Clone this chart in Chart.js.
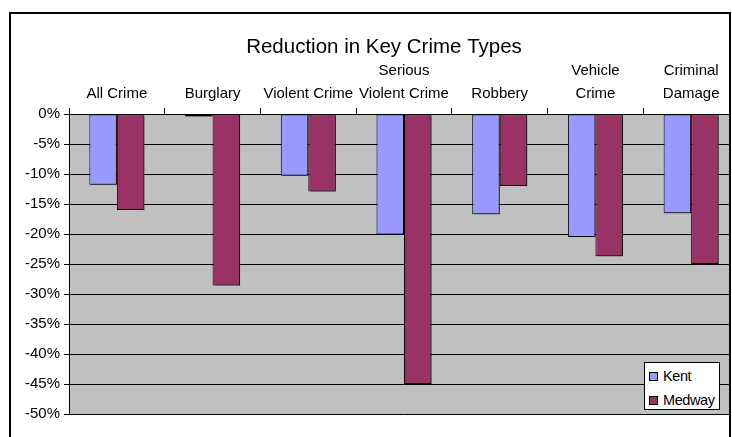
<!DOCTYPE html>
<html>
<head>
<meta charset="utf-8">
<script src="https://cdn.jsdelivr.net/npm/chart.js@4.4.1/dist/chart.umd.min.js"></script>
<style>
  html, body { margin: 0; padding: 0; background: #fff; overflow: hidden; }
  #wrap { position: relative; width: 732px; height: 437px; overflow: hidden; }
  #c { position: absolute; left: 0; top: 0; }
  #frame { position: absolute; left: 9px; top: 12px; width: 718px; height: 500px; border: 2px solid #000; pointer-events: none; }
  #rightpad { position: absolute; left: 731px; top: 0; width: 10px; height: 437px; background: #fff; }
  #legend { position: absolute; left: 644px; top: 362px; width: 74px; height: 46px; border: 1px solid #000; background: #fff;
            font-family: "Liberation Sans", Arial, sans-serif; font-size: 14.5px; letter-spacing: -0.4px; color: #000; }
  #legend .item { position: absolute; left: 4px; height: 20px; line-height: 20px; white-space: nowrap; }
  #legend .sw { display: inline-block; width: 7px; height: 7px; border: 1px solid #000; margin-right: 5px; vertical-align: 0px; }
</style>
</head>
<body>
<div id="wrap">
  <canvas id="c" width="768" height="437"></canvas>
  <div id="frame"></div>
  <div id="rightpad"></div>
  <div id="legend"></div>
</div>
<script>
const categories = ['All Crime', 'Burglary', 'Violent Crime', ['Serious', 'Violent Crime'], 'Robbery', ['Vehicle', 'Crime'], ['Criminal', 'Damage']];
const seriesNames = ['Kent', 'Medway'];
const kentValues = [-11.8, -0.4, -10.3, -20.1, -16.7, -20.5, -16.55];
const medwayValues = [-16.0, -28.6, -12.9, -45.0, -12.0, -23.7, -25.0];
const yTickMin = -50;
const yTickMax = 0;
const yTickStep = 5;

const colors = ['#9999FF', '#993366'];
const FONT = '"Liberation Sans", Arial, sans-serif';

const shadowPlugin = {
  id: 'barShadow',
  beforeDatasetsDraw(chart) {
    const ctx = chart.ctx;
    ctx.save();
    ctx.shadowColor = 'rgba(0,0,0,0.45)';
    ctx.shadowOffsetX = 2;
    ctx.shadowOffsetY = 2;
    ctx.shadowBlur = 0;
  },
  afterDatasetsDraw(chart) {
    chart.ctx.restore();
  }
};

const chart = new Chart(document.getElementById('c'), {
  type: 'bar',
  data: {
    labels: categories,
    datasets: [
      { label: seriesNames[0], data: kentValues, backgroundColor: colors[0], borderColor: '#000', borderWidth: 1, borderSkipped: false },
      { label: seriesNames[1], data: medwayValues, backgroundColor: colors[1], borderColor: '#000', borderWidth: 1, borderSkipped: false }
    ]
  },
  plugins: [shadowPlugin, {
    id: 'plotBg',
    beforeDraw(chart) {
      const { ctx, chartArea: a } = chart;
      ctx.save();
      ctx.fillStyle = '#C0C0C0';
      ctx.fillRect(a.left, a.top, a.right - a.left, a.bottom - a.top);
      ctx.restore();
    }
  }],
  options: {
    responsive: false,
    animation: false,
    layout: { padding: { left: 0, right: 0, top: 0, bottom: 23 } },
    datasets: { bar: { categoryPercentage: 0.575, barPercentage: 1.0 } },
    plugins: {
      legend: { display: false },
      tooltip: { enabled: false },
      title: {
        display: true,
        text: 'Reduction in Key Crime Types',
        color: '#000',
        font: { family: FONT, size: 20.5, weight: 'normal', lineHeight: 1.2 },
        padding: { top: 34.7, bottom: 0 }
      }
    },
    scales: {
      x: {
        position: 'top',
        offset: true,
        grid: { display: true, drawOnChartArea: false, drawTicks: true, tickLength: 6, color: '#000', offset: true },
        border: { display: true, color: '#000', width: 1 },
        ticks: { color: '#000', font: { family: FONT, size: 15, lineHeight: 1.5 }, padding: 3, maxRotation: 0, autoSkip: false },
        afterFit(scale) { scale.height = 54.7; }
      },
      y: {
        min: yTickMin,
        max: yTickMax,
        grid: { color: '#000', lineWidth: 1, drawTicks: true, tickLength: 5 },
        border: { display: true, color: '#000', width: 1 },
        ticks: {
          stepSize: yTickStep,
          color: '#000',
          padding: 4,
          font: { family: FONT, size: 15 },
          callback: v => v + '%'
        },
        afterFit(scale) { scale.width = 69; }
      },
      spacer: {
        type: 'linear',
        position: 'right',
        display: true,
        grid: { display: false, drawTicks: false },
        border: { display: false },
        ticks: { display: false },
        afterFit(scale) { scale.width = 29; }
      }
    }
  }
});

const legend = document.getElementById('legend');
chart.data.datasets.forEach((ds, i) => {
  const item = document.createElement('div');
  item.className = 'item';
  item.style.top = (3 + i * 24) + 'px';
  const sw = document.createElement('span');
  sw.className = 'sw';
  sw.style.background = ds.backgroundColor;
  item.appendChild(sw);
  item.appendChild(document.createTextNode(ds.label));
  legend.appendChild(item);
});
</script>
</body>
</html>
